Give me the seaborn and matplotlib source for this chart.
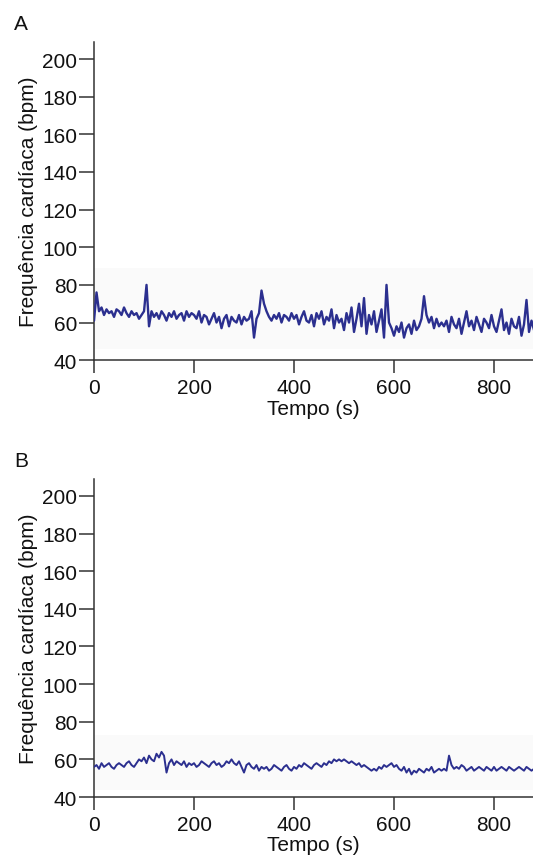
import numpy as np
import pandas as pd
import seaborn as sns
import matplotlib.pyplot as plt

# heart rate traces, one value every 5 s
tempo = np.arange(0, 885, 5)

fc_a = [61, 76, 66, 68, 64, 67, 65, 66, 63, 67, 66, 64, 68, 65, 63, 66, 64, 65, 62, 64,
        66, 80, 58, 66, 63, 65, 62, 66, 64, 61, 65, 63, 66, 62, 64, 65, 61, 66, 63, 65,
        64, 62, 66, 60, 64, 63, 59, 62, 65, 60, 63, 57, 62, 64, 58, 63, 61, 60, 64, 59,
        63, 61, 62, 66, 52, 62, 65, 77, 70, 66, 63, 61, 64, 62, 65, 60, 64, 63, 61, 65,
        62, 64, 59, 63, 66, 61, 60, 64, 58, 65, 62, 66, 59, 63, 61, 67, 57, 64, 60, 62,
        56, 65, 60, 68, 55, 62, 70, 58, 73, 54, 64, 59, 66, 55, 61, 67, 52, 80, 60, 57,
        53, 58, 55, 60, 52, 57, 59, 54, 61, 56, 58, 62, 74, 64, 60, 63, 57, 62, 58, 60,
        58, 61, 55, 63, 59, 57, 62, 54, 60, 66, 58, 61, 56, 63, 59, 55, 62, 60, 57, 64,
        58, 55, 61, 67, 56, 60, 54, 62, 58, 57, 63, 53, 59, 72, 55, 61, 56]

fc_b = [56, 57, 55, 58, 56, 57, 58, 56, 55, 57, 58, 57, 56, 58, 59, 57, 56, 58, 60, 59,
        61, 58, 62, 60, 59, 63, 61, 64, 62, 53, 58, 60, 57, 59, 58, 57, 59, 56, 58, 57,
        58, 56, 57, 59, 58, 57, 56, 58, 59, 57, 58, 56, 57, 59, 58, 60, 58, 57, 59, 56,
        53, 57, 58, 56, 55, 57, 54, 56, 55, 56, 54, 55, 57, 56, 55, 54, 56, 57, 55, 54,
        56, 55, 57, 56, 58, 57, 56, 55, 57, 58, 57, 56, 58, 57, 59, 58, 60, 59, 60, 59,
        60, 59, 58, 59, 58, 57, 58, 56, 57, 56, 55, 54, 55, 54, 56, 55, 57, 56, 57, 58,
        56, 57, 55, 54, 56, 53, 55, 52, 54, 53, 55, 54, 53, 55, 54, 56, 53, 54, 55, 54,
        55, 54, 62, 57, 55, 56, 55, 57, 56, 54, 55, 56, 54, 55, 56, 55, 54, 56, 55, 54,
        56, 54, 55, 56, 55, 54, 56, 55, 54, 55, 56, 55, 54, 56, 55, 54, 55]

yticks = [40, 60, 80, 100, 120, 140, 160, 180, 200]
xticks = [0, 200, 400, 600, 800]

sns.set_style("ticks")
plt.rcParams['font.family'] = ['Liberation Sans', 'DejaVu Sans']
plt.rcParams['text.color'] = '#111111'
plt.rcParams['axes.labelcolor'] = '#111111'

fig = plt.figure(figsize=(5.33, 8.62), dpi=100)
ax_a = fig.add_axes([0.1764, 0.581, 0.8236, 0.369])
ax_b = fig.add_axes([0.1764, 0.0742, 0.8236, 0.369])

for ax, fc, letra, band, lw in [(ax_a, fc_a, 'A', (46, 89), 1.7), (ax_b, fc_b, 'B', (44, 73), 1.4)]:
    df = pd.DataFrame({'Tempo': tempo, 'FC': fc})
    ax.axhspan(band[0], band[1], color='#fafafa', zorder=0, lw=0)
    sns.lineplot(data=df, x='Tempo', y='FC', ax=ax, color='#2b2f8f', lw=lw, zorder=3)
    ax.set_xlim(0, 878)
    ax.set_ylim(40, 209)
    ax.set_yticks(yticks)
    ax.set_xticks(xticks)
    ax.tick_params(axis='y', labelsize=15, length=11, width=1.1, color='#333333',
                   labelcolor='#111111', pad=1)
    ax.tick_params(axis='x', labelsize=15, length=9, width=1.1, color='#333333',
                   labelcolor='#111111', pad=4)
    for s in ['top', 'right']:
        ax.spines[s].set_visible(False)
    for s in ['left', 'bottom']:
        ax.spines[s].set_color('#333333')
        ax.spines[s].set_linewidth(1.1)
    ax.set_xlabel('Tempo (s)', fontsize=15, labelpad=1)
    ax.set_ylabel('Frequência cardíaca (bpm)', fontsize=15, labelpad=3)
    pos = ax.get_position()
    fig.text(0.027, pos.y1 + 0.021, letra, fontsize=15, va='center', ha='left')

fig.savefig('out.png', dpi=100)
